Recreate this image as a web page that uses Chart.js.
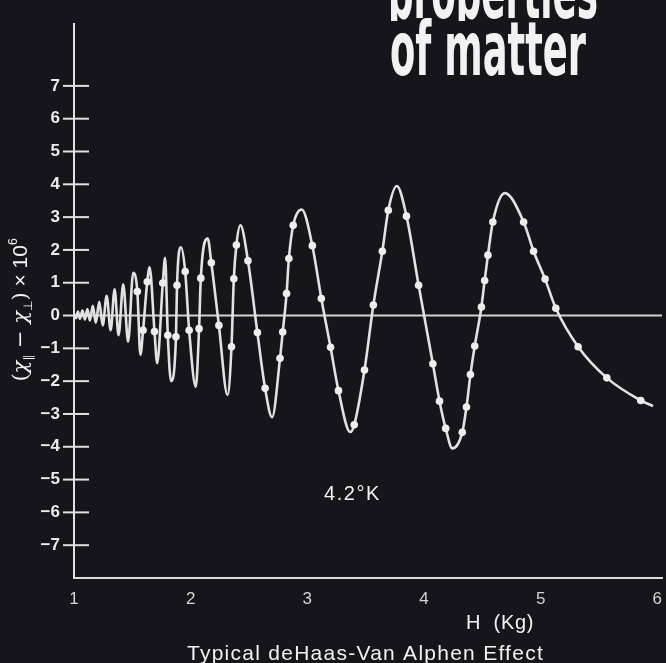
<!DOCTYPE html>
<html>
<head>
<meta charset="utf-8">
<script src="https://cdn.jsdelivr.net/npm/chart.js@4.4.1/dist/chart.umd.min.js"></script>
<style>
  html, body { margin: 0; padding: 0; background: #15151b; }
  #wrap { width: 666px; height: 663px; position: relative; }
</style>
</head>
<body>
<div id="wrap"><canvas id="myChart"></canvas></div>
<script>
// TICK LABELS
const xTicks = [1, 2, 3, 4, 5, 6];
const yTicks = [7, 6, 5, 4, 3, 2, 1, 0, -1, -2, -3, -4, -5, -6, -7];

// turning points of the traced curve (H in Kg, value x 10^6)
const traceH = [1.000, 1.017, 1.034, 1.051, 1.072, 1.093, 1.115, 1.136, 1.161, 1.187,
                1.216, 1.246, 1.280, 1.314, 1.348, 1.382, 1.422, 1.464, 1.507, 1.569,
                1.648, 1.713, 1.781, 1.832, 1.917, 2.044, 2.146, 2.316, 2.426, 2.698,
                2.952, 3.368, 3.767, 4.243, 4.693, 5.963];
const traceV = [0.05, -0.08, 0.12, -0.10, 0.15, -0.12, 0.20, -0.15, 0.30, -0.22,
                0.42, -0.30, 0.60, -0.45, 0.80, -0.60, 0.95, -0.80, 1.30, -1.20,
                1.47, -1.45, 1.76, -2.00, 2.08, -2.17, 2.35, -2.42, 2.75, -3.10,
                3.23, -3.55, 3.95, -4.05, 3.73, -2.76];

// the marked readings (white dots)
const dotH = [1.543, 1.592, 1.628, 1.690, 1.761, 1.804, 1.874, 1.883, 1.953, 1.987,
              2.072, 2.087, 2.177, 2.242, 2.350, 2.370, 2.392, 2.491, 2.572, 2.638,
              2.766, 2.789, 2.822, 2.842, 2.879, 3.043, 3.120, 3.199, 3.267, 3.402,
              3.490, 3.566, 3.643, 3.694, 3.850, 3.954, 4.076, 4.133, 4.186, 4.328,
              4.364, 4.398, 4.435, 4.492, 4.520, 4.548, 4.590, 4.854, 4.939, 5.038,
              5.130, 5.321, 5.567, 5.858];
const dotV = [0.73, -0.45, 1.03, -0.49, 0.99, -0.60, -0.65, 0.92, 1.34, -0.45,
              -0.40, 1.14, 1.61, -0.30, -0.95, 1.12, 2.15, 1.67, -0.52, -2.22,
              -1.30, -0.50, 0.67, 1.74, 2.75, 2.13, 0.52, -0.97, -2.29, -3.33,
              -1.66, 0.32, 1.96, 3.21, 3.03, 0.92, -1.47, -2.61, -3.44, -3.56,
              -2.79, -1.80, -0.93, 0.26, 1.07, 1.84, 2.85, 2.85, 1.96, 1.11,
              0.22, -0.95, -1.90, -2.59];

// line goes through the turning points and the readings
const dotPts = dotH.map((h, i) => ({ x: h, y: dotV[i] }));
const curvePts = traceH.map((h, i) => ({ x: h, y: traceV[i] }))
    .concat(dotPts)
    .sort((a, b) => a.x - b.x);

const SANS = '"Liberation Sans", Arial, sans-serif';

// stretch letter spacing so a string fills a given width
function spreadText(ctx, str, x, y, w) {
    ctx.letterSpacing = '0px';
    const nat = ctx.measureText(str).width;
    ctx.letterSpacing = ((w - nat) / str.length) + 'px';
    ctx.textAlign = 'left';
    ctx.fillText(str, x, y);
    ctx.letterSpacing = '0px';
}

// squeeze a string horizontally into a given width
function squeezeText(ctx, str, x, y, w) {
    const nat = ctx.measureText(str).width;
    ctx.save();
    ctx.translate(x, y);
    ctx.scale(w / nat, 1);
    ctx.textAlign = 'left';
    ctx.fillText(str, 0, 0);
    ctx.restore();
}

const decor = {
    id: 'decor',
    beforeDatasetsDraw(chart) {
        const { ctx, chartArea, scales } = chart;
        const y0 = scales.y.getPixelForValue(0);
        ctx.save();
        ctx.strokeStyle = '#d2d2d2';
        ctx.lineWidth = 2;
        ctx.beginPath();
        ctx.moveTo(chartArea.left, y0);
        ctx.lineTo(chartArea.right, y0);
        ctx.stroke();
        ctx.restore();
    },
    afterDraw(chart) {
        const { ctx, chartArea, scales } = chart;
        ctx.save();
        // ticks cross the y axis
        ctx.strokeStyle = '#e2e2e2';
        ctx.lineWidth = 2;
        yTicks.forEach(v => {
            const p = scales.y.getPixelForValue(v);
            ctx.beginPath();
            ctx.moveTo(chartArea.left - 11, p);
            ctx.lineTo(chartArea.left + 15, p);
            ctx.stroke();
        });

        ctx.fillStyle = '#f2f2f2';
        ctx.textBaseline = 'alphabetic';

        // headline, top right (first line is cut off at the top of the page)
        ctx.font = 'bold 74px "Liberation Sans Narrow", "DejaVu Sans Condensed", "Liberation Sans", sans-serif';
        ctx.save();
        ctx.beginPath();
        ctx.rect(380, 0, 286, 21);
        ctx.clip();
        squeezeText(ctx, 'properties', 388, 18, 210);
        ctx.restore();
        squeezeText(ctx, 'of matter', 390, 75, 196);

        // temperature note
        ctx.font = '20px ' + SANS;
        spreadText(ctx, '4.2°K', 324, 500, 57);

        // x axis title and caption
        ctx.font = '20px ' + SANS;
        spreadText(ctx, 'H  (Kg)', 466, 629, 68);
        ctx.font = '21px ' + SANS;
        spreadText(ctx, 'Typical deHaas-Van Alphen Effect', 187, 660, 357);

        // y axis title, rotated, with sub/superscripts
        const parts = [
            ['(', '21px "DejaVu Serif", serif', 0],
            ['χ', 'italic 21px "DejaVu Serif", serif', 0],
            ['∥', '12px "DejaVu Sans", sans-serif', 5],
            [' − ', '21px "DejaVu Serif", serif', 0],
            ['χ', 'italic 21px "DejaVu Serif", serif', 0],
            ['⊥', '12px "DejaVu Sans", sans-serif', 5],
            [')', '21px "DejaVu Serif", serif', 0],
            [' × 10', '21px ' + SANS, 0],
            ['6', '12px ' + SANS, -10]
        ];
        let total = 0;
        parts.forEach(p => { ctx.font = p[1]; total += ctx.measureText(p[0]).width; });
        ctx.translate(27, 310);
        ctx.rotate(-Math.PI / 2);
        let cx = -total / 2;
        ctx.textAlign = 'left';
        parts.forEach(p => {
            ctx.font = p[1];
            ctx.fillText(p[0], cx, p[2]);
            cx += ctx.measureText(p[0]).width;
        });
        ctx.restore();
    }
};

const data = {
    datasets: [
        {
            label: 'readings',
            data: dotPts,
            showLine: false,
            pointRadius: 3.8,
            pointBackgroundColor: '#ededed',
            pointBorderWidth: 0,
            order: 0
        },
        {
            label: 'trace',
            data: curvePts,
            showLine: true,
            borderColor: '#e2e2e2',
            borderWidth: 2.6,
            pointRadius: 0,
            tension: 0.4,
            cubicInterpolationMode: 'monotone',
            order: 1
        }
    ]
};

const config = {
    type: 'scatter',
    data: data,
    options: {
        responsive: true,
        maintainAspectRatio: false,
        animation: false,
        layout: { padding: { top: 13, right: 0, bottom: 0, left: 0 } },
        plugins: { legend: { display: false }, tooltip: { enabled: false } },
        scales: {
            x: {
                type: 'linear',
                min: 1,
                max: 6.04,
                afterBuildTicks: s => { s.ticks = xTicks.map(v => ({ value: v })); },
                afterFit: s => { s.height = 85; s.paddingLeft = 0; s.paddingRight = 0; },
                grid: { display: false, drawTicks: false },
                border: { display: true, color: '#dcdcdc', width: 2 },
                ticks: {
                    color: '#d4d4d4',
                    font: { family: SANS, size: 17 },
                    padding: 11,
                    maxRotation: 0,
                    autoSkip: false
                }
            },
            y: {
                type: 'linear',
                min: -8,
                max: 8.88,
                afterBuildTicks: s => { s.ticks = yTicks.map(v => ({ value: v })); },
                afterFit: s => { s.width = 74; },
                grid: { display: false, drawTicks: false },
                border: { display: true, color: '#e2e2e2', width: 2 },
                ticks: {
                    color: '#ececec',
                    font: { family: SANS, size: 17, weight: 'bold' },
                    padding: 14,
                    autoSkip: false,
                    callback: v => String(v).replace('-', '−')
                }
            }
        }
    },
    plugins: [decor]
};

var myChart = new Chart(document.getElementById('myChart'), config);
</script>
</body>
</html>
